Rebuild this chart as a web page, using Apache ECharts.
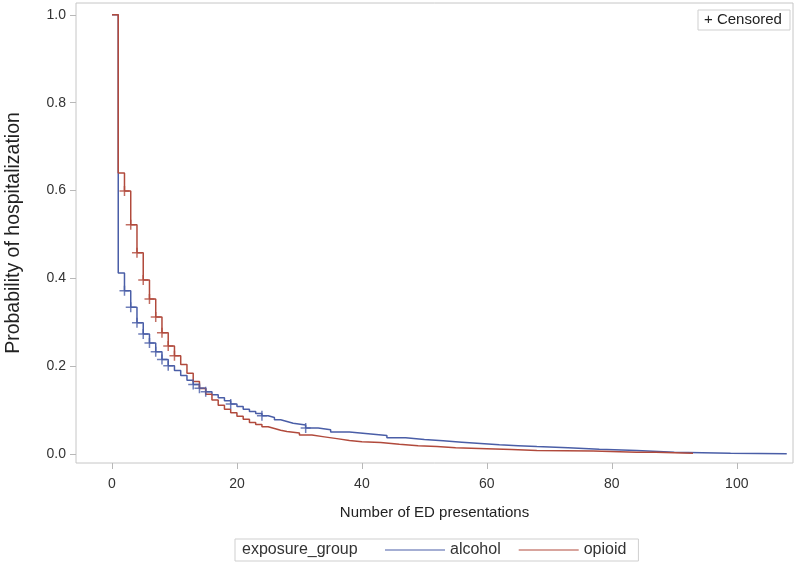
<!DOCTYPE html>
<html>
<head>
<meta charset="utf-8">
<script src="https://cdn.jsdelivr.net/npm/echarts@6/dist/echarts.min.js"></script>
<style>
  html, body { margin: 0; padding: 0; background: #fff; }
  #chart { width: 800px; height: 567px; }
</style>
</head>
<body>
<div id="chart"></div>
<script>
// Kaplan-Meier style step data
const alcoholTime = [0, 1, 2, 3, 4, 5, 6, 7, 8, 9, 10, 11, 12, 13, 14, 15, 16, 17, 18, 19, 20,
  21, 22, 23, 24, 25, 26, 27, 28, 29, 31, 33, 35, 38, 41, 44, 47, 50, 53, 56, 59, 62, 65, 68,
  73, 78, 84, 90, 99, 108];
const alcoholSurv = [1.0, 0.412, 0.372, 0.334, 0.299, 0.273, 0.253, 0.233, 0.215, 0.201, 0.190,
  0.179, 0.168, 0.158, 0.150, 0.142, 0.135, 0.128, 0.121, 0.114, 0.108,
  0.102, 0.097, 0.092, 0.087, 0.083, 0.078, 0.074, 0.070, 0.066, 0.059, 0.055, 0.050, 0.046,
  0.042, 0.037, 0.033, 0.030, 0.027, 0.024, 0.021, 0.019, 0.017, 0.014,
  0.011, 0.008, 0.004, 0.0018, 0.0005, 0.0005];

const opioidTime = [0, 1, 2, 3, 4, 5, 6, 7, 8, 9, 10, 11, 12, 13, 14, 15, 16, 17, 18, 19, 20,
  21, 22, 23, 24, 25, 26, 27, 28, 30, 32, 34, 36, 38, 40, 43, 46, 49, 52, 55, 60, 64, 68,
  77, 84, 87, 93];
const opioidSurv = [1.0, 0.640, 0.599, 0.522, 0.458, 0.396, 0.353, 0.312, 0.276, 0.246, 0.224,
  0.204, 0.184, 0.165, 0.149, 0.136, 0.123, 0.111, 0.102, 0.094, 0.086,
  0.079, 0.072, 0.067, 0.062, 0.058, 0.054, 0.051, 0.048, 0.043, 0.039, 0.035, 0.031, 0.028,
  0.026, 0.022, 0.019, 0.017, 0.014, 0.012, 0.010, 0.008, 0.007,
  0.004, 0.004, 0.0018, 0.0018];

// censored observations (times)
const alcoholCensor = [2, 3, 4, 5, 6, 7, 8, 9, 13, 14, 15, 19, 24, 31];
const opioidCensor = [2, 3, 4, 5, 6, 7, 8, 9, 10];

const xTicks = [0, 20, 40, 60, 80, 100];
const yTicks = [0, 0.2, 0.4, 0.6, 0.8, 1.0];

const BLUE = '#4a5ea7';
const RED = '#b14a3c';
const FONT = 'Liberation Sans, Arial, sans-serif';

function zip(ts, vs) {
  return ts.map((t, i) => [t, vs[i]]);
}

// survival value at time t (step function, right-continuous)
function survAt(ts, vs, t) {
  let v = vs[0];
  for (let i = 0; i < ts.length; i++) {
    if (ts[i] <= t) v = vs[i];
  }
  return v;
}

const plusSymbol = 'path://M0,-5L0,5M-5,0L5,0';
const lineIcon = 'path://M0,0H60V1.2H0Z';

const chart = echarts.init(document.getElementById('chart'));

chart.setOption({
  animation: false,
  textStyle: { fontFamily: FONT },
  grid: {
    left: 76, right: 7, top: 3, bottom: 104,
    outerBoundsMode: 'none',
    containLabel: false,
    show: true, borderColor: '#c6c6c6', borderWidth: 1, backgroundColor: '#fff'
  },
  xAxis: {
    type: 'value',
    min: -5.76,
    max: 109,
    name: 'Number of ED presentations',
    nameLocation: 'middle',
    nameGap: 42,
    nameTextStyle: { fontSize: 15, color: '#222', fontFamily: FONT },
    axisLine: { show: false, onZero: false },
    axisTick: { show: true, inside: false, length: 6, customValues: xTicks,
      lineStyle: { color: '#b8b8b8' } },
    axisLabel: { customValues: xTicks, margin: 14, fontSize: 14, color: '#333', fontFamily: FONT },
    splitLine: { show: false }
  },
  yAxis: {
    type: 'value',
    min: -0.0205,
    max: 1.027,
    name: 'Probability of hospitalization',
    nameLocation: 'middle',
    nameGap: 52,
    nameMoveOverlap: false,
    nameTextStyle: { fontSize: 19.5, color: '#222', fontFamily: FONT },
    axisLine: { show: false, onZero: false },
    axisTick: { show: true, inside: false, length: 6, customValues: yTicks,
      lineStyle: { color: '#b8b8b8' } },
    axisLabel: { customValues: yTicks, margin: 10, fontSize: 14, color: '#333', fontFamily: FONT,
      formatter: v => v.toFixed(1) },
    splitLine: { show: false }
  },
  legend: {
    data: [{ name: 'alcohol', icon: lineIcon }, { name: 'opioid', icon: lineIcon }],
    left: 235,
    top: 539,
    orient: 'horizontal',
    padding: [3, 12, 3, 150],
    itemGap: 18,
    itemWidth: 60,
    itemHeight: 1.2,
    borderColor: '#cfcfcf',
    borderWidth: 1,
    textStyle: { fontSize: 16, color: '#333', fontFamily: FONT },
    selectedMode: false
  },
  graphic: [
    {
      type: 'text',
      left: 242,
      top: 542,
      style: { text: 'exposure_group', font: '16px ' + FONT, fill: '#333' }
    },
    {
      type: 'rect',
      shape: { x: 698, y: 10, width: 92, height: 20 },
      style: { fill: '#fff', stroke: '#cfcfcf', lineWidth: 1 }
    },
    {
      type: 'text',
      x: 704,
      y: 12,
      style: { text: '+ Censored', font: '15px ' + FONT, fill: '#222' }
    }
  ],
  series: [
    {
      name: 'alcohol',
      type: 'line',
      step: 'end',
      symbol: 'none',
      color: BLUE,
      lineStyle: { width: 1.5, color: BLUE },
      data: zip(alcoholTime, alcoholSurv),
      z: 3
    },
    {
      name: 'opioid',
      type: 'line',
      step: 'end',
      symbol: 'none',
      color: RED,
      lineStyle: { width: 1.5, color: RED },
      data: zip(opioidTime, opioidSurv),
      z: 4
    },
    {
      name: 'alcohol censored',
      type: 'scatter',
      symbol: plusSymbol,
      symbolSize: 10,
      itemStyle: { color: 'none', borderColor: BLUE, borderWidth: 1.5 },
      data: alcoholCensor.map(t => [t, survAt(alcoholTime, alcoholSurv, t)]),
      z: 5
    },
    {
      name: 'opioid censored',
      type: 'scatter',
      symbol: plusSymbol,
      symbolSize: 10,
      itemStyle: { color: 'none', borderColor: RED, borderWidth: 1.5 },
      data: opioidCensor.map(t => [t, survAt(opioidTime, opioidSurv, t)]),
      z: 6
    }
  ]
});
</script>
</body>
</html>
